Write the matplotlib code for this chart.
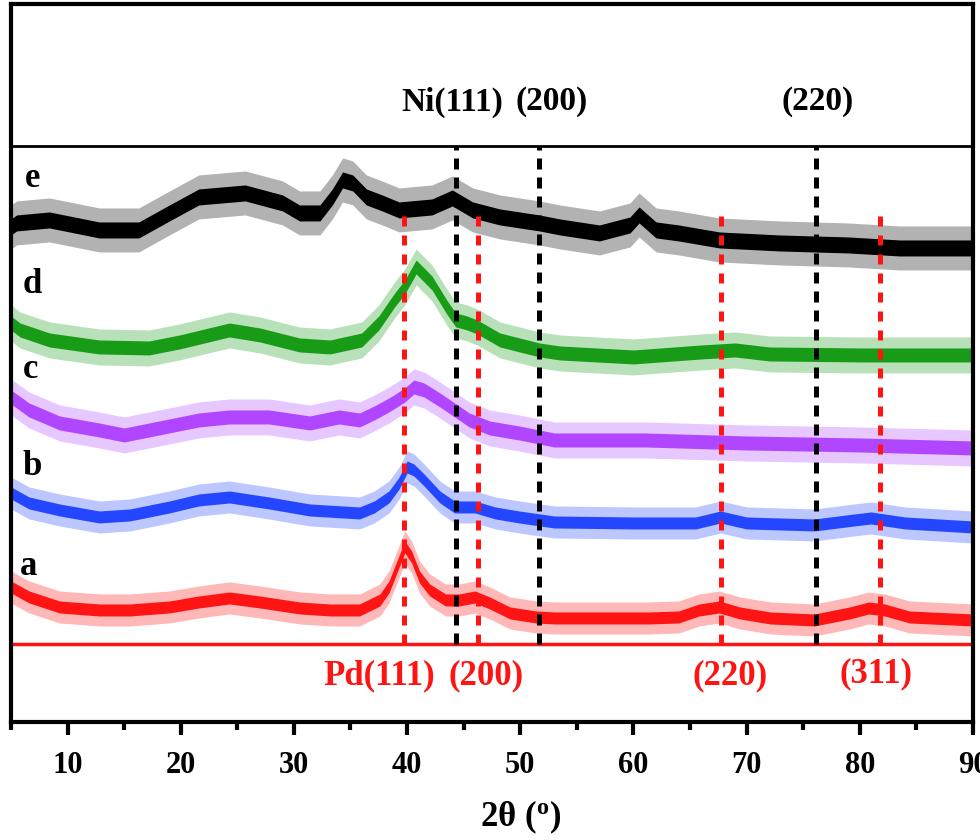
import matplotlib
matplotlib.use('Agg')
import matplotlib.pyplot as plt
import numpy as np

plt.rcParams['font.family'] = ['Liberation Serif', 'DejaVu Serif']
plt.rcParams['font.weight'] = 'bold'
plt.rcParams['mathtext.fontset'] = 'custom'
plt.rcParams['mathtext.rm'] = 'Liberation Serif'
plt.rcParams['mathtext.bf'] = 'Liberation Serif:bold'

# XRD patterns (offset, arbitrary units)
x_a = [5.0, 6.6, 9.3, 12.8, 15.5, 19.0, 21.6, 24.3, 27.0, 30.5, 33.2, 35.8, 37.6, 38.4, 39.1, 39.8,
       40.4, 41.1, 42.0, 43.4, 44.6, 46.0, 47.3, 49.1, 51.4, 53.0, 61.4, 64.0, 65.8, 67.6, 69.4,
       72.1, 76.0, 79.1, 80.8, 82.2, 84.4, 90.0]
y_a = [135, 125, 115, 112, 112, 115, 120, 124, 120, 114, 112, 112, 122, 135, 155, 175,
       165, 145, 132, 122, 122, 125, 119, 109, 105, 104, 104, 105, 112, 115, 109,
       104, 102, 109, 114, 112, 105, 102]

x_b = [5.0, 6.6, 9.3, 12.8, 15.5, 19.0, 21.6, 24.3, 27.8, 31.4, 35.8, 37.1, 38.4, 39.3, 40.0, 40.6,
       41.5, 42.9, 44.2, 46.0, 47.8, 49.9, 53.0, 60.0, 65.5, 67.7, 70.0, 76.0, 79.5, 81.0, 84.0, 90.0]
y_b = [229, 219, 212, 205, 207, 215, 222, 225, 219, 212, 209, 215, 225, 239, 255, 252,
       242, 225, 215, 215, 209, 205, 200, 199, 199, 205, 199, 197, 202, 204, 199, 195]

x_c = [5.0, 6.6, 9.3, 12.8, 15.0, 18.1, 21.6, 24.3, 27.8, 31.4, 34.0, 35.8, 37.1, 38.4, 39.8, 40.6,
       41.5, 42.9, 44.2, 45.5, 47.3, 49.9, 53.0, 61.0, 70.0, 80.0, 90.0]
y_c = [325, 312, 299, 292, 287, 294, 302, 305, 305, 299, 305, 302, 309, 317, 327, 335,
       332, 322, 312, 302, 294, 289, 282, 282, 279, 277, 274]

x_d = [5.0, 5.8, 8.4, 12.8, 17.2, 19.9, 24.3, 27.0, 30.5, 33.2, 36.0, 37.5, 38.9, 39.8, 40.8, 42.2,
       43.5, 44.3, 45.3, 46.2, 48.2, 51.7, 53.5, 60.0, 66.0, 69.0, 72.0, 80.0, 90.0]
y_d = [399, 392, 382, 375, 374, 380, 392, 387, 377, 375, 382, 399, 422, 435, 455, 439,
       415, 402, 399, 395, 382, 372, 369, 365, 370, 372, 368, 367, 367]

x_e = [5.0, 5.5, 8.4, 12.8, 16.3, 19.0, 21.6, 25.7, 29.0, 30.5, 32.3, 33.4, 34.3, 35.2, 36.4, 37.8,
       39.3, 42.2, 44.0, 45.8, 48.2, 51.7, 53.5, 57.0, 59.7, 60.5, 62.0, 64.0, 67.6, 72.9, 79.0,
       83.5, 90.0]
y_e = [495, 499, 502, 492, 492, 509, 525, 529, 519, 509, 509, 525, 542, 539, 525, 519,
       512, 515, 524, 512, 505, 499, 495, 489, 497, 507, 492, 489, 482, 479, 477,
       474, 474]

# noise band half-widths (dense core, spikes)
core_noise = [6, 6, 7, 7, 8]
spike_noise = [16, 16, 18, 18, 22]

series_names = ['a', 'b', 'c', 'd', 'e']
series_colors = ['#ff1414', '#2446ff', '#b046ff', '#189c18', '#000000']

pd_peaks = [39.7, 46.3, 67.7, 81.75]
ni_peaks = [44.35, 51.7, 76.1]

fig = plt.figure(figsize=(9.8, 8.4), dpi=100)
ax = fig.add_axes([0.0112, 0.1405, 0.9816, 0.8548])

xs = [x_a, x_b, x_c, x_d, x_e]
ys = [y_a, y_b, y_c, y_d, y_e]
for x, y, c, n1, n2 in zip(xs, ys, series_colors, core_noise, spike_noise):
    x = np.array(x)
    y = np.array(y)
    ax.fill_between(x, y - n2, y + n2, color=c, alpha=0.3, lw=0)
    ax.fill_between(x, y - n1, y + n1, color=c, lw=0)

# series letters
letter_pos = [(5.75, 147), (6.02, 247), (6.02, 344), (6.02, 429), (6.19, 535)]
for name, (lx, ly) in zip(series_names, letter_pos):
    ax.text(lx, ly, name, fontsize=25, fontweight='bold', ha='left', va='baseline')

# reference lines
ax.axhline(576, color='black', lw=2)
ax.axhline(78, color='#ff1414', lw=2.5)
for p in pd_peaks:
    ax.plot([p, p], [78, 509], color='#ff1414', lw=3.6, linestyle=(0, (2.0, 1.8)))
for p in ni_peaks:
    ax.plot([p, p], [78, 576], color='black', lw=3.6, linestyle=(0, (2.2, 1.6)))

ax.text(44.0, 620, 'Ni(111)', fontsize=24, fontweight='bold', ha='center', va='center')
ax.text(52.8, 620, '(200)', fontsize=24, fontweight='bold', ha='center', va='center')
ax.text(76.3, 620, '(220)', fontsize=24, fontweight='bold', ha='center', va='center')
ax.text(37.5, 46, 'Pd(111)', fontsize=25, fontweight='bold', color='#ff1414', ha='center', va='center')
ax.text(47.0, 46, '(200)', fontsize=25, fontweight='bold', color='#ff1414', ha='center', va='center')
ax.text(68.5, 46, '(220)', fontsize=25, fontweight='bold', color='#ff1414', ha='center', va='center')
ax.text(81.4, 48, '(311)', fontsize=25, fontweight='bold', color='#ff1414', ha='center', va='center')

ax.set_xlim(5, 90)
ax.set_ylim(0, 718)
ax.set_xticks(np.arange(10, 91, 10))
ax.set_xticks(np.arange(5, 91, 5), minor=True)
ax.set_yticks([])
ax.tick_params(axis='x', which='major', direction='out', length=9, width=3, labelsize=22, pad=12)
ax.tick_params(axis='x', which='minor', direction='out', length=6, width=3)
for lab in ax.get_xticklabels():
    lab.set_fontweight('bold')
for s in ax.spines.values():
    s.set_linewidth(3)

fig.text(0.531, 0.027, r'2θ ($\mathbf{^o}$)', fontsize=25, fontweight='bold', ha='center', va='center')

fig.savefig('out.png', dpi=100)
